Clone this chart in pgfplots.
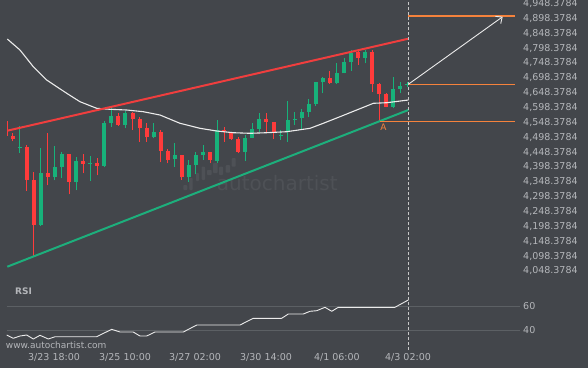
\documentclass[border=0pt]{standalone}
\usepackage{fontspec}
\setmainfont{DejaVu Sans}
\usepackage{pgfplots}
\usepackage{pgfplotstable}
\pgfplotsset{compat=1.18}
\usetikzlibrary{arrows.meta}
\definecolor{bgc}{RGB}{67,70,75}
\definecolor{cred}{RGB}{255,59,59}
\definecolor{cgreen}{RGB}{23,178,122}
\definecolor{redline}{RGB}{240,62,62}
\definecolor{greenline}{RGB}{29,175,124}
\definecolor{orng}{RGB}{245,130,60}
\definecolor{lbl}{RGB}{180,182,186}
\definecolor{mac}{RGB}{235,235,235}
\definecolor{gridc}{RGB}{92,96,100}
\definecolor{wmc}{RGB}{78,81,86}
\definecolor{dashc}{RGB}{200,200,200}

\pgfplotstableread{
x l h bb bt
0.3 4502.48 4552.93 4527.70 4527.70
1 4484.65 4513.58 4493.39 4502.48
3 4318.48 4471.19 4354.47 4465.48
4 4099.84 4382.39 4203.11 4354.47
6 4336.65 4511.56 4364.57 4378.02
9 4306.37 4442.94 4348.76 4442.94
11 4377.01 4441.93 4409.31 4418.38
13 4370.28 4428.48 4402.58 4412.67
16 4536.11 4578.83 4539.48 4569.75
18 4522.66 4583.21 4559.66 4580.85
19 4483.30 4567.40 4530.40 4559.66
20 4483.30 4545.20 4500.12 4530.40
22 4414.01 4522.66 4453.03 4516.94
23 4410.65 4457.74 4421.75 4453.03
25 4354.47 4438.57 4363.56 4438.57
29 4410.65 4449.67 4421.75 4449.67
31 4483.30 4533.76 4518.29 4522.66
32 4489.02 4516.94 4492.39 4514.92
33 4444.28 4500.12 4449.67 4492.39
37 4511.56 4578.83 4549.57 4558.65
38 4491.38 4549.57 4516.94 4549.57
46 4677.39 4722.13 4681.76 4696.56
50 4741.30 4791.75 4764.85 4786.04
52 4651.49 4791.75 4676.38 4784.02
53 4550.58 4679.74 4643.75 4676.38
54 4599.02 4648.13 4601.03 4643.75
}\redtab

\pgfplotstableread{
x l h bb bt
2 4446.30 4536.11 4461.44 4464.80
5 4199.74 4461.10 4203.11 4378.02
7 4353.46 4468.84 4364.57 4398.20
8 4360.19 4448.66 4398.20 4442.94
10 4319.83 4431.84 4348.76 4418.38
12 4351.11 4434.19 4409.98 4413.34
14 4397.19 4551.92 4401.57 4546.20
15 4533.76 4595.65 4545.20 4569.75
17 4528.38 4587.58 4540.49 4580.85
21 4494.74 4545.20 4500.12 4516.94
24 4399.21 4477.92 4425.11 4438.57
26 4348.76 4421.75 4363.56 4404.93
27 4373.65 4449.67 4404.93 4438.57
28 4421.75 4472.20 4439.58 4448.66
30 4410.65 4556.30 4418.38 4522.66
34 4418.38 4505.84 4449.67 4494.74
35 4494.74 4547.21 4496.76 4525.01
36 4516.94 4578.83 4525.01 4558.65
39 4489.02 4522.66 4504.16 4507.52
40 4483.30 4620.21 4516.94 4556.30
41 4539.48 4584.21 4556.30 4561.34
42 4525.01 4593.30 4562.01 4584.21
43 4567.40 4625.92 4584.21 4610.12
44 4603.39 4685.13 4610.12 4683.11
45 4646.11 4701.94 4683.11 4696.56
47 4677.39 4747.02 4681.76 4713.38
48 4713.38 4763.84 4713.38 4750.38
49 4722.13 4791.75 4750.38 4782.67
51 4747.02 4791.75 4764.85 4784.02
55 4595.65 4701.94 4601.03 4659.56
56 4646.11 4685.13 4661.58 4670.66
57 4668.31 4685.13 4675.37 4676.38
}\greentab

\begin{document}
\begin{tikzpicture}[x=1pt,y=1pt]
\useasboundingbox (0,0) rectangle (588,368);
\fill[bgc] (0,0) rectangle (588,368);
% watermark
\begin{scope}[wmc]
\fill[rounded corners=0.8pt] (183.3,178) rectangle (187.3,183);
\fill[rounded corners=0.8pt] (189.3,178) rectangle (192.7,190);
\fill[rounded corners=0.8pt] (196,187) rectangle (199,195);
\fill[rounded corners=0.8pt] (201.7,188) rectangle (205,201.3);
\fill[rounded corners=0.8pt] (207,193) rectangle (211.7,198);
\fill[rounded corners=0.8pt] (213,195) rectangle (217.7,205);
\fill[rounded corners=0.8pt] (219,193) rectangle (223,201.3);
\fill[rounded corners=0.8pt] (225.7,195.3) rectangle (230,203);
\fill[rounded corners=0.8pt] (231.7,201.3) rectangle (235.7,210);
\end{scope}
\node[anchor=base west, text=wmc, font=\fontsize{20}{20}\selectfont, inner sep=0pt] at (216.7,177.5) {autochartist};

\begin{axis}[at={(0pt,83pt)}, anchor=south west, scale only axis,
  width=520pt, height=285pt,
  xmin=-0.794, xmax=72.965, ymin=4001.29, ymax=4959.94,
  axis line style={draw=none}, tick style={draw=none}, major tick length=0pt,
  xtick=\empty,
  ytick={4048.3784,4098.3784,4148.3784,4198.3784,4248.3784,4298.3784,4348.3784,4398.3784,4448.3784,4498.3784,4548.3784,4598.3784,4648.3784,4698.3784,4748.3784,4798.3784,4848.3784,4898.3784,4948.3784},
  yticklabels={{4,048.3784},{4,098.3784},{4,148.3784},{4,198.3784},{4,248.3784},{4,298.3784},{4,348.3784},{4,398.3784},{4,448.3784},{4,498.3784},{4,548.3784},{4,598.3784},{4,648.3784},{4,698.3784},{4,748.3784},{4,798.3784},{4,848.3784},{4,898.3784},{4,948.3784}},
  yticklabel pos=right,
  yticklabel style={anchor=west, inner sep=0pt, xshift=3pt, text=lbl, font=\fontsize{9.5}{11}\selectfont},
  clip=true]
% candles: wicks
\addplot[draw=none, mark=none, forget plot, error bars/.cd, y dir=plus, y explicit, error mark=none,
  error bar style={line width=1pt, draw=cred}]
  table[x=x, y=l, y error plus expr=\thisrow{h}-\thisrow{l}] {\redtab};
\addplot[draw=none, mark=none, forget plot, error bars/.cd, y dir=plus, y explicit, error mark=none,
  error bar style={line width=1pt, draw=cgreen}]
  table[x=x, y=l, y error plus expr=\thisrow{h}-\thisrow{l}] {\greentab};
% candles: bodies
\addplot[draw=none, mark=none, forget plot, error bars/.cd, y dir=plus, y explicit, error mark=none,
  error bar style={line width=4pt, draw=cred}]
  table[x=x, y=bb, y error plus expr=\thisrow{bt}-\thisrow{bb}] {\redtab};
\addplot[draw=none, mark=none, forget plot, error bars/.cd, y dir=plus, y explicit, error mark=none,
  error bar style={line width=4pt, draw=cgreen}]
  table[x=x, y=bb, y error plus expr=\thisrow{bt}-\thisrow{bb}] {\greentab};
% moving average
\addplot[mac, line width=1.1pt, line join=round] coordinates {
(0.24,4828.76)(2.04,4791.75)(3.93,4735.58)(5.83,4690.84)(8.67,4646.11)(10.55,4617.85)
(12.92,4595.65)(14.81,4592.29)(17.18,4589.93)(19.53,4584.21)(21.9,4573.11)(24.74,4545.20)
(27.57,4528.38)(29.94,4519.30)(32.3,4513.58)(34.67,4511.56)(37.04,4513.58)(39.87,4516.94)
(43.18,4528.38)(45.06,4545.20)(47.43,4567.40)(49.8,4589.93)(52.16,4612.47)(54.06,4614.49)(57.12,4623.57)};
% channel
\addplot[redline, line width=2pt] coordinates {(0.24,4520.30)(57.12,4829.76)};
\addplot[greenline, line width=2pt] coordinates {(0.24,4062.84)(57.12,4589.93)};
% levels
\addplot[orng, line width=1.1pt] coordinates {(57.12,4906.12)(72.26,4906.12)};
\addplot[orng, line width=1.1pt] coordinates {(57.12,4676.38)(72.26,4676.38)};
\addplot[orng, line width=1.1pt] coordinates {(53.1,4551.92)(72.26,4551.92)};
\addplot[dashc, line width=0.8pt, dash pattern=on 3pt off 2pt] coordinates {(57.12,4001.29)(57.12,4959.94)};
\addplot[mac, line width=0.9pt, -{Straight Barb[length=5pt,width=9pt]}] coordinates {(57.12,4676.4)(70.51,4903.77)};
\node[text=orng, font=\fontsize{9}{9}\selectfont, inner sep=0pt] at (axis cs:53.6,4531.07) {A};
\end{axis}

\begin{axis}[at={(0pt,18pt)}, anchor=south west, scale only axis,
  width=520pt, height=65pt,
  xmin=-0.794, xmax=72.965, ymin=23.79, ymax=77.28,
  axis line style={draw=none}, tick style={draw=none}, major tick length=0pt,
  ytick={40,60}, yticklabels={40,60},
  yticklabel pos=right,
  yticklabel style={anchor=west, inner sep=0pt, xshift=3pt, text=lbl, font=\fontsize{9.5}{11}\selectfont},
  xtick={6.87,16.94,26.87,36.94,47.0,57.08},
  xticklabels={3/23 18:00,3/25 10:00,3/27 02:00,3/30 14:00,4/1 06:00,4/3 02:00},
  xticklabel style={anchor=north, inner sep=0pt, yshift=-3pt, text=lbl, font=\fontsize{9.5}{11}\selectfont},
  clip=false]
\addplot[gridc, line width=0.8pt] coordinates {(0.2,60)(72.965,60)};
\addplot[gridc, line width=0.8pt] coordinates {(0.2,40)(72.965,40)};
\addplot[mac, line width=0.9pt, line join=round] coordinates {
(0.16,36.13)(1.09,33.42)(2.04,35.31)(2.99,36.13)(3.93,32.84)(4.88,35.88)(6.06,32.84)(7.01,34.73)
(12.92,34.73)(15.05,40.82)(16.23,38.60)(18.11,38.60)(19.06,35.31)(20.01,35.31)(21.19,38.60)
(25.21,38.60)(27.11,44.36)(33.25,44.36)(35.13,49.88)(39.16,49.88)(40.1,53.42)(42.23,53.42)
(43.18,55.64)(44.13,56.13)(45.3,58.93)(46.26,55.64)(47.19,58.93)(55.23,58.93)(57.12,64.94)};
\addplot[dashc, line width=0.8pt, dash pattern=on 3pt off 2pt] coordinates {(57.12,23.79)(57.12,77.28)};
\end{axis}

\node[anchor=west, text=lbl, font=\bfseries\fontsize{9}{10}\selectfont, inner sep=0pt] at (15,77) {RSI};
\node[anchor=west, text=lbl, font=\fontsize{9}{10}\selectfont, inner sep=0pt] at (5.7,23) {www.autochartist.com};
\end{tikzpicture}
\end{document}
